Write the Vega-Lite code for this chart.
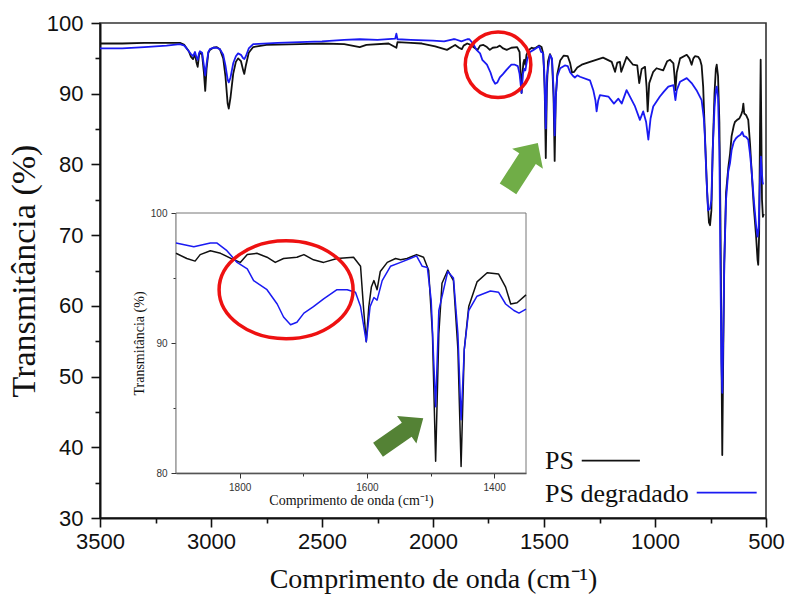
{
  "$schema": "https://vega.github.io/schema/vega-lite/v6.json",
  "width": 666,
  "height": 495,
  "autosize": {"type": "none"},
  "padding": {"left": 100, "top": 23, "right": 21, "bottom": 77},
  "background": "white",
  "config": {
    "view": {"stroke": "#333333", "strokeWidth": 1.6},
    "axis": {"grid": false, "domainColor": "#111111", "tickColor": "#111111", "labelColor": "#111111", "titleColor": "#111111", "labelFlush": false, "labelOverlap": false}
  },
  "datasets": {
    "ir": [
      {"s": "PS", "wn": 3500, "t": 97.1}, {"s": "PS", "wn": 3400, "t": 97.1}, {"s": "PS", "wn": 3300, "t": 97.2},
      {"s": "PS", "wn": 3200, "t": 97.2}, {"s": "PS", "wn": 3140, "t": 97.2}, {"s": "PS", "wn": 3120, "t": 96.9},
      {"s": "PS", "wn": 3100, "t": 96.0}, {"s": "PS", "wn": 3090, "t": 95.2}, {"s": "PS", "wn": 3081, "t": 94.9},
      {"s": "PS", "wn": 3072, "t": 95.6}, {"s": "PS", "wn": 3066, "t": 94.5}, {"s": "PS", "wn": 3060, "t": 93.8},
      {"s": "PS", "wn": 3054, "t": 95.4}, {"s": "PS", "wn": 3050, "t": 95.9}, {"s": "PS", "wn": 3040, "t": 95.5},
      {"s": "PS", "wn": 3032, "t": 93.0}, {"s": "PS", "wn": 3026, "t": 90.4}, {"s": "PS", "wn": 3020, "t": 93.5},
      {"s": "PS", "wn": 3012, "t": 95.8}, {"s": "PS", "wn": 3005, "t": 96.2}, {"s": "PS", "wn": 2990, "t": 96.5},
      {"s": "PS", "wn": 2975, "t": 96.6}, {"s": "PS", "wn": 2960, "t": 96.3}, {"s": "PS", "wn": 2945, "t": 95.0},
      {"s": "PS", "wn": 2935, "t": 92.5}, {"s": "PS", "wn": 2925, "t": 88.6}, {"s": "PS", "wn": 2920, "t": 87.9},
      {"s": "PS", "wn": 2912, "t": 89.5}, {"s": "PS", "wn": 2900, "t": 92.8}, {"s": "PS", "wn": 2888, "t": 94.5},
      {"s": "PS", "wn": 2878, "t": 95.0}, {"s": "PS", "wn": 2865, "t": 94.6}, {"s": "PS", "wn": 2855, "t": 93.3},
      {"s": "PS", "wn": 2850, "t": 92.8}, {"s": "PS", "wn": 2843, "t": 94.0}, {"s": "PS", "wn": 2830, "t": 95.8},
      {"s": "PS", "wn": 2810, "t": 96.6}, {"s": "PS", "wn": 2750, "t": 96.9}, {"s": "PS", "wn": 2600, "t": 97.0},
      {"s": "PS", "wn": 2500, "t": 97.1}, {"s": "PS", "wn": 2400, "t": 97.0}, {"s": "PS", "wn": 2330, "t": 96.6},
      {"s": "PS", "wn": 2300, "t": 96.9}, {"s": "PS", "wn": 2200, "t": 97.1}, {"s": "PS", "wn": 2165, "t": 96.5},
      {"s": "PS", "wn": 2160, "t": 97.3}, {"s": "PS", "wn": 2100, "t": 97.2}, {"s": "PS", "wn": 2050, "t": 97.1},
      {"s": "PS", "wn": 1990, "t": 96.7}, {"s": "PS", "wn": 1937, "t": 96.2}, {"s": "PS", "wn": 1910, "t": 96.7},
      {"s": "PS", "wn": 1900, "t": 96.9}, {"s": "PS", "wn": 1883, "t": 96.5}, {"s": "PS", "wn": 1870, "t": 96.3},
      {"s": "PS", "wn": 1862, "t": 96.8}, {"s": "PS", "wn": 1846, "t": 97.1}, {"s": "PS", "wn": 1830, "t": 96.9},
      {"s": "PS", "wn": 1809, "t": 96.4}, {"s": "PS", "wn": 1799, "t": 96.2}, {"s": "PS", "wn": 1788, "t": 96.8},
      {"s": "PS", "wn": 1773, "t": 96.9}, {"s": "PS", "wn": 1757, "t": 96.6}, {"s": "PS", "wn": 1744, "t": 96.2},
      {"s": "PS", "wn": 1731, "t": 96.5}, {"s": "PS", "wn": 1710, "t": 96.6}, {"s": "PS", "wn": 1699, "t": 96.8},
      {"s": "PS", "wn": 1684, "t": 96.4}, {"s": "PS", "wn": 1668, "t": 96.2}, {"s": "PS", "wn": 1647, "t": 96.5},
      {"s": "PS", "wn": 1621, "t": 96.6}, {"s": "PS", "wn": 1610, "t": 95.9}, {"s": "PS", "wn": 1605, "t": 92.5},
      {"s": "PS", "wn": 1601, "t": 90.1}, {"s": "PS", "wn": 1597, "t": 92.8}, {"s": "PS", "wn": 1593, "t": 94.3},
      {"s": "PS", "wn": 1589, "t": 94.8}, {"s": "PS", "wn": 1584, "t": 94.1}, {"s": "PS", "wn": 1579, "t": 95.5},
      {"s": "PS", "wn": 1568, "t": 96.2}, {"s": "PS", "wn": 1555, "t": 96.5}, {"s": "PS", "wn": 1547, "t": 96.4},
      {"s": "PS", "wn": 1537, "t": 96.5}, {"s": "PS", "wn": 1522, "t": 96.8}, {"s": "PS", "wn": 1511, "t": 96.6},
      {"s": "PS", "wn": 1503, "t": 95.6}, {"s": "PS", "wn": 1497, "t": 90.7}, {"s": "PS", "wn": 1492, "t": 80.9},
      {"s": "PS", "wn": 1487, "t": 90.7}, {"s": "PS", "wn": 1482, "t": 94.6}, {"s": "PS", "wn": 1473, "t": 95.6},
      {"s": "PS", "wn": 1464, "t": 94.8}, {"s": "PS", "wn": 1457, "t": 89.5}, {"s": "PS", "wn": 1452, "t": 80.5},
      {"s": "PS", "wn": 1447, "t": 89.5}, {"s": "PS", "wn": 1440, "t": 92.8}, {"s": "PS", "wn": 1427, "t": 94.7},
      {"s": "PS", "wn": 1411, "t": 95.4}, {"s": "PS", "wn": 1393, "t": 95.3}, {"s": "PS", "wn": 1382, "t": 94.3},
      {"s": "PS", "wn": 1374, "t": 93.0}, {"s": "PS", "wn": 1364, "t": 93.1}, {"s": "PS", "wn": 1350, "t": 93.7},
      {"s": "PS", "wn": 1330, "t": 94.1}, {"s": "PS", "wn": 1293, "t": 94.5}, {"s": "PS", "wn": 1234, "t": 95.1},
      {"s": "PS", "wn": 1195, "t": 94.5}, {"s": "PS", "wn": 1180, "t": 93.1}, {"s": "PS", "wn": 1170, "t": 94.4},
      {"s": "PS", "wn": 1158, "t": 94.5}, {"s": "PS", "wn": 1152, "t": 93.1}, {"s": "PS", "wn": 1128, "t": 95.2},
      {"s": "PS", "wn": 1099, "t": 94.1}, {"s": "PS", "wn": 1080, "t": 94.0}, {"s": "PS", "wn": 1071, "t": 91.5},
      {"s": "PS", "wn": 1060, "t": 93.5}, {"s": "PS", "wn": 1045, "t": 93.8}, {"s": "PS", "wn": 1038, "t": 91.0},
      {"s": "PS", "wn": 1033, "t": 87.5}, {"s": "PS", "wn": 1026, "t": 91.5}, {"s": "PS", "wn": 1008, "t": 93.1},
      {"s": "PS", "wn": 993, "t": 93.6}, {"s": "PS", "wn": 963, "t": 93.3}, {"s": "PS", "wn": 945, "t": 94.6},
      {"s": "PS", "wn": 932, "t": 94.8}, {"s": "PS", "wn": 917, "t": 94.3}, {"s": "PS", "wn": 912, "t": 92.5},
      {"s": "PS", "wn": 908, "t": 90.5}, {"s": "PS", "wn": 902, "t": 93.0}, {"s": "PS", "wn": 887, "t": 95.0},
      {"s": "PS", "wn": 857, "t": 95.5}, {"s": "PS", "wn": 845, "t": 95.0}, {"s": "PS", "wn": 835, "t": 94.1},
      {"s": "PS", "wn": 827, "t": 95.0}, {"s": "PS", "wn": 820, "t": 95.3}, {"s": "PS", "wn": 805, "t": 95.2},
      {"s": "PS", "wn": 797, "t": 94.8}, {"s": "PS", "wn": 790, "t": 94.0}, {"s": "PS", "wn": 783, "t": 91.0},
      {"s": "PS", "wn": 775, "t": 84.0}, {"s": "PS", "wn": 765, "t": 76.0}, {"s": "PS", "wn": 757, "t": 71.8},
      {"s": "PS", "wn": 752, "t": 71.4}, {"s": "PS", "wn": 746, "t": 73.5}, {"s": "PS", "wn": 740, "t": 82.0},
      {"s": "PS", "wn": 732, "t": 90.0}, {"s": "PS", "wn": 726, "t": 93.5}, {"s": "PS", "wn": 722, "t": 94.1},
      {"s": "PS", "wn": 716, "t": 92.5}, {"s": "PS", "wn": 710, "t": 86.0}, {"s": "PS", "wn": 705, "t": 72.0},
      {"s": "PS", "wn": 701, "t": 55.0}, {"s": "PS", "wn": 697, "t": 38.9}, {"s": "PS", "wn": 693, "t": 52.0},
      {"s": "PS", "wn": 688, "t": 66.0}, {"s": "PS", "wn": 680, "t": 76.0}, {"s": "PS", "wn": 670, "t": 79.5},
      {"s": "PS", "wn": 662, "t": 81.5}, {"s": "PS", "wn": 655, "t": 84.0}, {"s": "PS", "wn": 645, "t": 85.5},
      {"s": "PS", "wn": 640, "t": 86.0}, {"s": "PS", "wn": 630, "t": 86.3}, {"s": "PS", "wn": 620, "t": 86.5},
      {"s": "PS", "wn": 612, "t": 87.0}, {"s": "PS", "wn": 606, "t": 87.6}, {"s": "PS", "wn": 602, "t": 88.6},
      {"s": "PS", "wn": 598, "t": 87.2}, {"s": "PS", "wn": 590, "t": 87.0}, {"s": "PS", "wn": 580, "t": 86.3},
      {"s": "PS", "wn": 572, "t": 83.0}, {"s": "PS", "wn": 565, "t": 79.2}, {"s": "PS", "wn": 555, "t": 74.0},
      {"s": "PS", "wn": 545, "t": 70.0}, {"s": "PS", "wn": 538, "t": 66.5}, {"s": "PS", "wn": 535, "t": 65.8},
      {"s": "PS", "wn": 531, "t": 70.0}, {"s": "PS", "wn": 527, "t": 85.0}, {"s": "PS", "wn": 524, "t": 94.8},
      {"s": "PS", "wn": 521, "t": 85.0}, {"s": "PS", "wn": 518, "t": 75.0}, {"s": "PS", "wn": 514, "t": 72.6},
      {"s": "PS", "wn": 510, "t": 73.0},

      {"s": "PS degradado", "wn": 3500, "t": 96.4}, {"s": "PS degradado", "wn": 3400, "t": 96.4}, {"s": "PS degradado", "wn": 3300, "t": 96.6},
      {"s": "PS degradado", "wn": 3200, "t": 96.8}, {"s": "PS degradado", "wn": 3140, "t": 97.0}, {"s": "PS degradado", "wn": 3120, "t": 96.8},
      {"s": "PS degradado", "wn": 3100, "t": 96.0}, {"s": "PS degradado", "wn": 3090, "t": 95.6}, {"s": "PS degradado", "wn": 3081, "t": 95.3},
      {"s": "PS degradado", "wn": 3072, "t": 95.9}, {"s": "PS degradado", "wn": 3066, "t": 95.2}, {"s": "PS degradado", "wn": 3060, "t": 94.8},
      {"s": "PS degradado", "wn": 3054, "t": 95.7}, {"s": "PS degradado", "wn": 3050, "t": 96.0}, {"s": "PS degradado", "wn": 3040, "t": 95.8},
      {"s": "PS degradado", "wn": 3032, "t": 94.0}, {"s": "PS degradado", "wn": 3026, "t": 92.6}, {"s": "PS degradado", "wn": 3020, "t": 94.2},
      {"s": "PS degradado", "wn": 3012, "t": 95.9}, {"s": "PS degradado", "wn": 3005, "t": 96.3}, {"s": "PS degradado", "wn": 2990, "t": 96.5},
      {"s": "PS degradado", "wn": 2975, "t": 96.5}, {"s": "PS degradado", "wn": 2960, "t": 96.3}, {"s": "PS degradado", "wn": 2945, "t": 95.5},
      {"s": "PS degradado", "wn": 2935, "t": 94.0}, {"s": "PS degradado", "wn": 2925, "t": 92.0}, {"s": "PS degradado", "wn": 2920, "t": 91.6},
      {"s": "PS degradado", "wn": 2912, "t": 92.3}, {"s": "PS degradado", "wn": 2900, "t": 94.3}, {"s": "PS degradado", "wn": 2888, "t": 95.3},
      {"s": "PS degradado", "wn": 2878, "t": 95.7}, {"s": "PS degradado", "wn": 2865, "t": 95.5}, {"s": "PS degradado", "wn": 2855, "t": 95.0},
      {"s": "PS degradado", "wn": 2850, "t": 94.9}, {"s": "PS degradado", "wn": 2843, "t": 95.3}, {"s": "PS degradado", "wn": 2830, "t": 96.4},
      {"s": "PS degradado", "wn": 2810, "t": 97.0}, {"s": "PS degradado", "wn": 2700, "t": 97.2}, {"s": "PS degradado", "wn": 2600, "t": 97.3},
      {"s": "PS degradado", "wn": 2500, "t": 97.4}, {"s": "PS degradado", "wn": 2400, "t": 97.6}, {"s": "PS degradado", "wn": 2330, "t": 97.7},
      {"s": "PS degradado", "wn": 2250, "t": 97.6}, {"s": "PS degradado", "wn": 2170, "t": 97.8}, {"s": "PS degradado", "wn": 2165, "t": 98.5},
      {"s": "PS degradado", "wn": 2160, "t": 97.7}, {"s": "PS degradado", "wn": 2100, "t": 97.6}, {"s": "PS degradado", "wn": 2000, "t": 97.5},
      {"s": "PS degradado", "wn": 1950, "t": 97.4}, {"s": "PS degradado", "wn": 1910, "t": 97.7}, {"s": "PS degradado", "wn": 1900, "t": 97.7},
      {"s": "PS degradado", "wn": 1872, "t": 97.4}, {"s": "PS degradado", "wn": 1846, "t": 97.7}, {"s": "PS degradado", "wn": 1836, "t": 97.7},
      {"s": "PS degradado", "wn": 1820, "t": 97.1}, {"s": "PS degradado", "wn": 1804, "t": 96.2}, {"s": "PS degradado", "wn": 1788, "t": 95.7},
      {"s": "PS degradado", "wn": 1778, "t": 94.8}, {"s": "PS degradado", "wn": 1757, "t": 94.1}, {"s": "PS degradado", "wn": 1741, "t": 93.0},
      {"s": "PS degradado", "wn": 1731, "t": 92.0}, {"s": "PS degradado", "wn": 1720, "t": 91.4}, {"s": "PS degradado", "wn": 1710, "t": 91.6},
      {"s": "PS degradado", "wn": 1699, "t": 92.3}, {"s": "PS degradado", "wn": 1684, "t": 92.8}, {"s": "PS degradado", "wn": 1668, "t": 93.4},
      {"s": "PS degradado", "wn": 1647, "t": 94.1}, {"s": "PS degradado", "wn": 1631, "t": 94.1}, {"s": "PS degradado", "wn": 1618, "t": 93.9},
      {"s": "PS degradado", "wn": 1610, "t": 92.8}, {"s": "PS degradado", "wn": 1601, "t": 90.1}, {"s": "PS degradado", "wn": 1595, "t": 92.8},
      {"s": "PS degradado", "wn": 1589, "t": 93.5}, {"s": "PS degradado", "wn": 1584, "t": 93.3}, {"s": "PS degradado", "wn": 1576, "t": 94.8},
      {"s": "PS degradado", "wn": 1563, "t": 95.9}, {"s": "PS degradado", "wn": 1547, "t": 96.2}, {"s": "PS degradado", "wn": 1532, "t": 96.5},
      {"s": "PS degradado", "wn": 1522, "t": 96.7}, {"s": "PS degradado", "wn": 1513, "t": 95.9}, {"s": "PS degradado", "wn": 1505, "t": 95.8},
      {"s": "PS degradado", "wn": 1499, "t": 93.3}, {"s": "PS degradado", "wn": 1492, "t": 85.1}, {"s": "PS degradado", "wn": 1487, "t": 92.5},
      {"s": "PS degradado", "wn": 1473, "t": 95.5}, {"s": "PS degradado", "wn": 1464, "t": 95.0}, {"s": "PS degradado", "wn": 1457, "t": 90.7},
      {"s": "PS degradado", "wn": 1452, "t": 84.1}, {"s": "PS degradado", "wn": 1447, "t": 89.5}, {"s": "PS degradado", "wn": 1440, "t": 92.5},
      {"s": "PS degradado", "wn": 1427, "t": 93.6}, {"s": "PS degradado", "wn": 1406, "t": 94.0}, {"s": "PS degradado", "wn": 1393, "t": 93.9},
      {"s": "PS degradado", "wn": 1382, "t": 93.0}, {"s": "PS degradado", "wn": 1369, "t": 92.5}, {"s": "PS degradado", "wn": 1361, "t": 92.3},
      {"s": "PS degradado", "wn": 1350, "t": 92.6}, {"s": "PS degradado", "wn": 1338, "t": 92.4}, {"s": "PS degradado", "wn": 1293, "t": 91.9},
      {"s": "PS degradado", "wn": 1278, "t": 90.5}, {"s": "PS degradado", "wn": 1268, "t": 89.0}, {"s": "PS degradado", "wn": 1263, "t": 87.5},
      {"s": "PS degradado", "wn": 1256, "t": 89.0}, {"s": "PS degradado", "wn": 1248, "t": 89.8}, {"s": "PS degradado", "wn": 1210, "t": 89.6},
      {"s": "PS degradado", "wn": 1185, "t": 88.6}, {"s": "PS degradado", "wn": 1165, "t": 89.3}, {"s": "PS degradado", "wn": 1150, "t": 88.6},
      {"s": "PS degradado", "wn": 1128, "t": 90.5}, {"s": "PS degradado", "wn": 1090, "t": 88.2}, {"s": "PS degradado", "wn": 1068, "t": 86.3},
      {"s": "PS degradado", "wn": 1053, "t": 87.5}, {"s": "PS degradado", "wn": 1040, "t": 86.0}, {"s": "PS degradado", "wn": 1030, "t": 83.5},
      {"s": "PS degradado", "wn": 1020, "t": 86.5}, {"s": "PS degradado", "wn": 1008, "t": 88.2}, {"s": "PS degradado", "wn": 978, "t": 89.6},
      {"s": "PS degradado", "wn": 960, "t": 90.3}, {"s": "PS degradado", "wn": 940, "t": 91.0}, {"s": "PS degradado", "wn": 917, "t": 91.2},
      {"s": "PS degradado", "wn": 912, "t": 90.0}, {"s": "PS degradado", "wn": 908, "t": 89.1}, {"s": "PS degradado", "wn": 902, "t": 90.5},
      {"s": "PS degradado", "wn": 887, "t": 91.7}, {"s": "PS degradado", "wn": 857, "t": 92.2}, {"s": "PS degradado", "wn": 835, "t": 91.5},
      {"s": "PS degradado", "wn": 813, "t": 90.5}, {"s": "PS degradado", "wn": 790, "t": 89.1}, {"s": "PS degradado", "wn": 780, "t": 86.5},
      {"s": "PS degradado", "wn": 776, "t": 84.4}, {"s": "PS degradado", "wn": 768, "t": 78.0}, {"s": "PS degradado", "wn": 761, "t": 73.5},
      {"s": "PS degradado", "wn": 752, "t": 73.8}, {"s": "PS degradado", "wn": 746, "t": 75.0}, {"s": "PS degradado", "wn": 740, "t": 82.0},
      {"s": "PS degradado", "wn": 732, "t": 88.0}, {"s": "PS degradado", "wn": 726, "t": 90.5}, {"s": "PS degradado", "wn": 722, "t": 91.0},
      {"s": "PS degradado", "wn": 716, "t": 89.5}, {"s": "PS degradado", "wn": 710, "t": 82.0}, {"s": "PS degradado", "wn": 705, "t": 65.0},
      {"s": "PS degradado", "wn": 701, "t": 52.0}, {"s": "PS degradado", "wn": 697, "t": 47.7}, {"s": "PS degradado", "wn": 693, "t": 55.0},
      {"s": "PS degradado", "wn": 688, "t": 66.0}, {"s": "PS degradado", "wn": 680, "t": 75.0}, {"s": "PS degradado", "wn": 670, "t": 79.0},
      {"s": "PS degradado", "wn": 662, "t": 80.2}, {"s": "PS degradado", "wn": 655, "t": 82.0}, {"s": "PS degradado", "wn": 645, "t": 83.2},
      {"s": "PS degradado", "wn": 635, "t": 83.7}, {"s": "PS degradado", "wn": 625, "t": 84.0}, {"s": "PS degradado", "wn": 615, "t": 84.2},
      {"s": "PS degradado", "wn": 607, "t": 84.6}, {"s": "PS degradado", "wn": 600, "t": 84.0}, {"s": "PS degradado", "wn": 590, "t": 83.9},
      {"s": "PS degradado", "wn": 580, "t": 83.5}, {"s": "PS degradado", "wn": 572, "t": 81.5}, {"s": "PS degradado", "wn": 565, "t": 79.2},
      {"s": "PS degradado", "wn": 555, "t": 75.0}, {"s": "PS degradado", "wn": 545, "t": 71.5}, {"s": "PS degradado", "wn": 538, "t": 69.8},
      {"s": "PS degradado", "wn": 533, "t": 71.0}, {"s": "PS degradado", "wn": 528, "t": 77.0}, {"s": "PS degradado", "wn": 523, "t": 81.1},
      {"s": "PS degradado", "wn": 519, "t": 79.0}, {"s": "PS degradado", "wn": 515, "t": 77.3}, {"s": "PS degradado", "wn": 510, "t": 77.3}
    ]
  },
  "layer": [
    {
      "layer": [
        {
          "data": {"name": "ir"},
          "mark": {"type": "line", "strokeWidth": 1.8, "strokeJoin": "round"},
          "encoding": {
            "x": {
              "field": "wn", "type": "quantitative",
              "scale": {"domain": [3500, 500], "nice": false, "zero": false},
              "axis": {
                "orient": "bottom",
                "values": [500, 1000, 1500, 2000, 2500, 3000, 3500],
                "format": "d",
                "tickSize": 9, "tickWidth": 1.6, "domainWidth": 2,
                "labelFont": "Liberation Sans", "labelFontSize": 22, "labelPadding": 4,
                "title": "Comprimento de onda (cm⁻¹)",
                "titleFont": "Liberation Serif", "titleFontSize": 28, "titleFontWeight": "normal", "titlePadding": 13
              }
            },
            "y": {
              "field": "t", "type": "quantitative",
              "scale": {"domain": [30, 100], "nice": false, "zero": false},
              "axis": {
                "orient": "left",
                "values": [30, 40, 50, 60, 70, 80, 90, 100],
                "tickSize": 9, "tickWidth": 1.6, "domainWidth": 2,
                "labelFont": "Liberation Sans", "labelFontSize": 22, "labelPadding": 8,
                "title": "Transmitância (%)",
                "titleFont": "Liberation Serif", "titleFontSize": 34, "titleFontWeight": "normal", "titlePadding": 5
              }
            },
            "color": {
              "field": "s", "type": "nominal",
              "scale": {"domain": ["PS", "PS degradado"], "range": ["#111111", "#1a1af2"]},
              "legend": null
            }
          }
        },
        {
          "data": {"values": [{}]},
          "mark": {"type": "point", "opacity": 0},
          "encoding": {
            "x": {
              "datum": 2000, "type": "quantitative",
              "axis": {"orient": "bottom", "values": [750, 1250, 1750, 2250, 2750, 3250], "labels": false, "domain": false, "tickSize": 5, "tickWidth": 1.6, "title": null}
            },
            "y": {
              "datum": 50, "type": "quantitative",
              "axis": {"orient": "left", "values": [35, 45, 55, 65, 75, 85, 95], "labels": false, "domain": false, "tickSize": 5, "tickWidth": 1.6, "title": null}
            }
          }
        },
        {
          "data": {"values": [{}]},
          "mark": {"type": "point", "shape": "circle", "filled": false, "color": "#ee1111", "strokeWidth": 3.5, "size": 4300, "opacity": 1},
          "encoding": {
            "x": {"datum": 1707, "type": "quantitative", "axis": null},
            "y": {"datum": 94.1, "type": "quantitative", "axis": null}
          }
        },
        {
          "data": {"values": [{}]},
          "mark": {"type": "point", "shape": "M -1 -0.36 L 0.31 -0.36 L 0.31 -0.67 L 1 0 L 0.31 0.67 L 0.31 0.36 L -1 0.36 Z", "filled": true, "color": "#70ad47", "size": 3000, "angle": -57, "opacity": 1, "strokeWidth": 0},
          "encoding": {
            "x": {"datum": 1595, "type": "quantitative", "axis": null},
            "y": {"datum": 79.8, "type": "quantitative", "axis": null}
          }
        },
        {
          "data": {"values": [{}]},
          "mark": {"type": "text", "text": "PS", "font": "Liberation Serif", "fontSize": 26, "align": "left", "baseline": "alphabetic", "color": "#111111"},
          "encoding": {
            "x": {"datum": 1495, "type": "quantitative", "axis": null},
            "y": {"datum": 36.9, "type": "quantitative", "axis": null}
          }
        },
        {
          "data": {"values": [{}]},
          "mark": {"type": "text", "text": "PS degradado", "font": "Liberation Serif", "fontSize": 26, "align": "left", "baseline": "alphabetic", "color": "#111111"},
          "encoding": {
            "x": {"datum": 1495, "type": "quantitative", "axis": null},
            "y": {"datum": 32.3, "type": "quantitative", "axis": null}
          }
        },
        {
          "data": {"values": [{}]},
          "mark": {"type": "rule", "strokeWidth": 1.8},
          "encoding": {
            "x": {"datum": 1330, "type": "quantitative", "axis": null},
            "x2": {"datum": 1068},
            "y": {"datum": 38.1, "type": "quantitative", "axis": null},
            "color": {"datum": "PS", "type": "nominal", "legend": null}
          }
        },
        {
          "data": {"values": [{}]},
          "mark": {"type": "rule", "strokeWidth": 1.8},
          "encoding": {
            "x": {"datum": 812, "type": "quantitative", "axis": null},
            "x2": {"datum": 542},
            "y": {"datum": 33.6, "type": "quantitative", "axis": null},
            "color": {"datum": "PS degradado", "type": "nominal", "legend": null}
          }
        }
      ],
      "resolve": {"axis": {"x": "independent", "y": "independent"}}
    },
    {
      "layer": [
        {
          "data": {"values": [{}]},
          "mark": {"type": "rect", "fill": "white", "stroke": "#777777", "strokeWidth": 1},
          "encoding": {
            "x": {"datum": 1900, "type": "quantitative", "scale": {"domain": [1900, 1350], "range": [76, 426], "nice": false, "zero": false}, "axis": null},
            "x2": {"datum": 1350},
            "y": {"datum": 80, "type": "quantitative", "scale": {"domain": [80, 100], "range": [450, 190], "nice": false, "zero": false}, "axis": null},
            "y2": {"datum": 100}
          }
        },
        {
          "data": {"name": "ir"},
          "transform": [{"filter": "datum.wn >= 1350 && datum.wn <= 1900"}],
          "mark": {"type": "line", "strokeWidth": 1.5, "strokeJoin": "round"},
          "encoding": {
            "x": {
              "field": "wn", "type": "quantitative",
              "scale": {"domain": [1900, 1350], "range": [76, 426], "nice": false, "zero": false},
              "axis": {
                "orient": "bottom", "offset": -45,
                "values": [1400, 1600, 1800],
                "format": "d",
                "tickSize": 5, "tickWidth": 1, "domainWidth": 1.4, "domainColor": "#333333", "tickColor": "#333333",
                "labelFont": "Liberation Sans", "labelFontSize": 10, "labelPadding": 4, "labelColor": "#333333",
                "title": "Comprimento de onda (cm⁻¹)",
                "titleFont": "Liberation Serif", "titleFontSize": 14, "titleFontWeight": "normal", "titlePadding": 1
              }
            },
            "y": {
              "field": "t", "type": "quantitative",
              "scale": {"domain": [80, 100], "range": [450, 190], "nice": false, "zero": false},
              "axis": {
                "orient": "left", "offset": -76,
                "values": [80, 90, 100],
                "tickSize": 5, "tickWidth": 1, "domainWidth": 1.4, "domainColor": "#333333", "tickColor": "#333333",
                "labelFont": "Liberation Sans", "labelFontSize": 10, "labelPadding": 4, "labelColor": "#333333",
                "title": "Transmitância (%)",
                "titleFont": "Liberation Serif", "titleFontSize": 14, "titleFontWeight": "normal", "titlePadding": 4
              }
            },
            "color": {"field": "s", "type": "nominal", "legend": null}
          }
        },
        {
          "data": {"values": [{}]},
          "mark": {"type": "point", "opacity": 0},
          "encoding": {
            "x": {
              "datum": 1600, "type": "quantitative",
              "scale": {"domain": [1900, 1350], "range": [76, 426], "nice": false, "zero": false},
              "axis": {"orient": "bottom", "offset": -45, "values": [1500, 1700], "labels": false, "domain": false, "tickSize": 3, "tickWidth": 1, "tickColor": "#333333", "title": null}
            },
            "y": {
              "datum": 90, "type": "quantitative",
              "scale": {"domain": [80, 100], "range": [450, 190], "nice": false, "zero": false},
              "axis": {"orient": "left", "offset": -76, "values": [85, 95], "labels": false, "domain": false, "tickSize": 3, "tickWidth": 1, "tickColor": "#333333", "title": null}
            }
          }
        },
        {
          "data": {"values": [{}]},
          "mark": {"type": "point", "shape": "M -1 0 A 1 0.731 0 1 1 1 0 A 1 0.731 0 1 1 -1 0 Z", "filled": false, "color": "#ee1111", "strokeWidth": 3.5, "size": 17956, "opacity": 1},
          "encoding": {
            "x": {"datum": 1727, "type": "quantitative", "scale": {"domain": [1900, 1350], "range": [76, 426], "nice": false, "zero": false}, "axis": null},
            "y": {"datum": 94.1, "type": "quantitative", "scale": {"domain": [80, 100], "range": [450, 190], "nice": false, "zero": false}, "axis": null}
          }
        },
        {
          "data": {"values": [{}]},
          "mark": {"type": "point", "shape": "M -1 -0.31 L 0.27 -0.31 L 0.27 -0.61 L 1 0 L 0.27 0.61 L 0.27 0.31 L -1 0.31 Z", "filled": true, "color": "#548235", "size": 3047, "angle": -35, "opacity": 1, "strokeWidth": 0},
          "encoding": {
            "x": {"datum": 1547, "type": "quantitative", "scale": {"domain": [1900, 1350], "range": [76, 426], "nice": false, "zero": false}, "axis": null},
            "y": {"datum": 83.0, "type": "quantitative", "scale": {"domain": [80, 100], "range": [450, 190], "nice": false, "zero": false}, "axis": null}
          }
        }
      ],
      "resolve": {"axis": {"x": "independent", "y": "independent"}}
    }
  ],
  "resolve": {"scale": {"x": "independent", "y": "independent"}}
}
